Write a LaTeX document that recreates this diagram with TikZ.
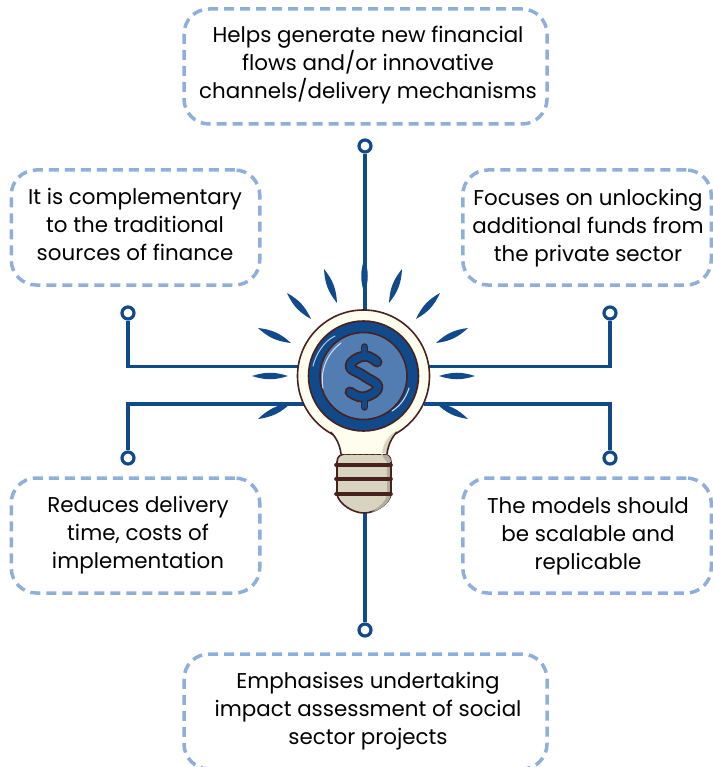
\documentclass[tikz,border=0pt]{standalone}
\usepackage{fontspec}
\setmainfont{Poppins}
\definecolor{wire blue}{HTML}{114A8B}
\definecolor{coin blue}{HTML}{527DB2}
\definecolor{dash blue}{HTML}{8FAFDB}
\definecolor{bulb cream}{HTML}{FFFDEE}
\definecolor{bulb brown}{HTML}{47211E}
\definecolor{base grey}{HTML}{D9D4C0}
\definecolor{base shade}{HTML}{B3AE9B}
\tikzstyle{text box}=[draw=dash blue, line width=3.5pt, dash pattern=on 10pt off 6pt, rounded corners=25pt, minimum height=115pt, inner sep=0pt]
\tikzstyle{wide box}=[text box, minimum width=363pt]
\tikzstyle{small box}=[text box, minimum width=248.5pt]
\tikzstyle{box text}=[align=center, font=\fontsize{21.4}{28}\selectfont, inner sep=0pt]
\tikzstyle{pin}=[circle, draw=wire blue, fill=white, line width=3.2pt, minimum size=12pt, inner sep=0pt]
\tikzstyle{wire}=[draw=wire blue, line width=3.4pt]
\tikzstyle{outline}=[draw=bulb brown, line width=1.6pt]

\begin{document}
\begin{tikzpicture}[x=1pt, y=-1pt]
      \useasboundingbox (0, 0) rectangle (712, 767);
      \node[wide box] (box_top) at (365.5, 66.5) {};
      \node[small box] (box_left_up) at (135.5, 227.5) {};
      \node[small box] (box_right_up) at (587, 227.5) {};
      \node[small box] (box_left_down) at (135.5, 535.5) {};
      \node[small box] (box_right_down) at (587, 535.5) {};
      \node[wide box] (box_bottom) at (365.5, 711.5) {};
      \node[box text] (text_top) at (368, 65) {Helps generate new financial\\flows and/or innovative\\channels/delivery mechanisms};
      \node[box text] (text_left_up) at (135, 224) {It is complementary\\to the traditional\\sources of finance};
      \node[box text] (text_right_up) at (588, 228) {Focuses on unlocking\\additional funds from\\the private sector};
      \node[box text] (text_left_down) at (138, 535) {Reduces delivery\\time, costs of\\implementation};
      \node[box text] (text_right_down) at (588, 536) {The models should\\be scalable and\\replicable};
      \node[box text] (text_bottom) at (368, 711) {Emphasises undertaking\\impact assessment of social\\sector projects};

      \node[circle, minimum size=132pt, inner sep=0pt] (bulb) at (363.5, 376) {};
      \node[pin] (pin_top) at (365, 146) {};
      \node[pin] (pin_left_up) at (128, 313) {};
      \node[pin] (pin_right_up) at (610, 313) {};
      \node[pin] (pin_left_down) at (128, 458) {};
      \node[pin] (pin_right_down) at (610, 458) {};
      \node[pin] (pin_bottom) at (365, 630) {};
      \draw[wire] (pin_top) -- (pin_top |- bulb.north);
      \draw[wire] (pin_left_up) |- (bulb.172);
      \draw[wire] (pin_right_up) |- (bulb.8);
      \draw[wire] (pin_left_down) |- (bulb.205);
      \draw[wire] (pin_right_down) |- (bulb.-25);
      \draw[wire] (pin_bottom) -- (365, 505);

      % rays
      \foreach \xa/\ya/\xb/\yb in {364.5/258/364.5/294, 324/269/337/303, 287/293/311/319,
          258/328/291/343, 252/376/288/376, 258/419/291/403, 402/269/389/303,
          440/293/416/319, 468/328/436/343, 475/376/439/376, 468/419/436/403}
        \fill[wire blue] (\xa, \ya) to[bend left=18] (\xb, \yb) to[bend left=18] (\xa, \ya);

      % base of the bulb
      \draw[outline, fill=base grey] (337, 462) .. controls (337, 456) and (341, 454) .. (346, 454)
        -- (382, 454) .. controls (387, 454) and (391, 456) .. (391, 462)
        -- (391, 494) .. controls (390, 503) and (376, 513) .. (364, 513)
        .. controls (352, 513) and (338, 503) .. (337, 494) -- cycle;
      \fill[base shade] (381, 454) .. controls (387, 454) and (391, 456) .. (391, 462)
        -- (391, 494) .. controls (390, 503) and (380, 510) .. (372, 512)
        .. controls (380, 506) and (387, 500) .. (387, 494) -- (387, 462) -- cycle;
      \draw[outline] (337, 462) -- (337, 494) (391, 462) -- (391, 494);
      \foreach \y in {465, 479, 494}
        \draw[draw=bulb brown, line width=3.6pt, line cap=round] (336, \y) -- (391, \y);

      % glass
      \node[circle, outline, fill=bulb cream, minimum size=132pt, inner sep=0pt] at (bulb) {};
      \fill[bulb cream] (315, 417) .. controls (333, 428) and (340, 442) .. (341, 454)
        -- (387, 454) .. controls (388, 442) and (395, 428) .. (413, 417) -- cycle;
      \fill[base grey] (396, 431) .. controls (391, 437) and (387.5, 445) .. (386.5, 453)
        -- (382, 453) .. controls (383, 445) and (387, 436) .. (396, 431) -- cycle;
      \draw[outline] (330.5, 432) .. controls (336, 437) and (340, 445) .. (341, 454)
        (387, 454) .. controls (388, 445) and (392, 437) .. (397, 432);
      \draw[bulb brown, line width=1pt, dashed] (341, 454) -- (387, 454);

      % coin
      \node[circle, outline, fill=wire blue, minimum size=110pt, inner sep=0pt] (coin_ring) at (bulb) {};
      \node[circle, outline, fill=coin blue, minimum size=87pt, inner sep=0pt] (coin) at (bulb) {};
      \draw[white!75!coin blue, line width=1pt, line cap=round] (323, 388) .. controls (320, 372) and (326, 354) .. (341, 343);
      \draw[white!75!coin blue, line width=1pt, line cap=round] (409, 388) .. controls (406, 398) and (400, 406) .. (392, 411);
      \draw[white!60!coin blue, line width=1pt, line cap=round] (313, 366) .. controls (316, 354) and (324, 341) .. (335, 336);

      % dollar sign
      \draw[bulb brown, line width=7.5pt, line cap=round] (364.5, 347) -- (364.5, 358) (364.5, 396) -- (364.5, 407);
      \draw[bulb brown, line width=11pt, line cap=round, line join=round]
        plot[smooth, tension=0.8] coordinates {(377, 362) (364, 356) (350, 366) (364, 376) (378, 387) (364, 397) (350, 392)};
      \draw[wire blue, line width=4.5pt, line cap=round] (364.5, 347) -- (364.5, 358) (364.5, 396) -- (364.5, 407);
      \draw[wire blue, line width=7.5pt, line cap=round, line join=round]
        plot[smooth, tension=0.8] coordinates {(377, 362) (364, 356) (350, 366) (364, 376) (378, 387) (364, 397) (350, 392)};
    \end{tikzpicture}
\end{document}
